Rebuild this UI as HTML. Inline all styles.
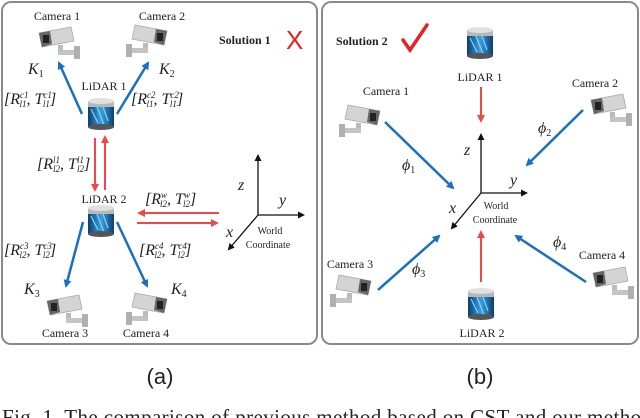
<!DOCTYPE html>
<html><head><meta charset="utf-8"><style>
html,body{margin:0;padding:0;background:#fff}
svg{display:block}
text{font-family:"Liberation Serif",serif;fill:#222}
.m{font-style:italic;font-size:16px}
.lab{font-size:12px}
</style></head><body>
<svg width="640" height="418" viewBox="0 0 640 418" xmlns="http://www.w3.org/2000/svg">
<defs>
<marker id="ab" markerWidth="8" markerHeight="8" refX="6" refY="4" orient="auto" markerUnits="userSpaceOnUse"><path d="M0,0 L8,4 L0,8 Z" fill="#1a6fc0"/></marker>
<marker id="ar" markerWidth="8" markerHeight="8" refX="6" refY="4" orient="auto" markerUnits="userSpaceOnUse"><path d="M0,0 L8,4 L0,8 Z" fill="#f04848"/></marker>
<marker id="ak" markerWidth="7" markerHeight="7" refX="5" refY="3.5" orient="auto" markerUnits="userSpaceOnUse"><path d="M0,0 L7,3.5 L0,7 Z" fill="#111"/></marker>
<g id="cam">
<polygon points="4,6 36,0 39,14 7,20" fill="#d4d4d4" stroke="#aaa" stroke-width="0.8"/>
<polygon points="4,6 15,4 17,17 7,20" fill="#666"/>
<rect x="8" y="8" width="6" height="8" fill="#222"/>
<rect x="23" y="18" width="5" height="9" fill="#bbb"/>
<rect x="23" y="23" width="20" height="5" fill="#c4c4c4"/>
<rect x="39" y="19" width="6" height="13" fill="#b0b0b0"/>
</g>
<linearGradient id="lg" x1="0" x2="1"><stop offset="0" stop-color="#0d3e6e"/><stop offset="0.5" stop-color="#3aa0e0"/><stop offset="1" stop-color="#0d3e6e"/></linearGradient>
<g id="lid">
<rect x="0" y="4" width="26" height="24" fill="url(#lg)"/>
<path d="M3,10 L10,24 M9,8 L16,26 M15,8 L20,22" stroke="#7fd4ff" stroke-width="1.2"/>
<ellipse cx="13" cy="28" rx="13" ry="3" fill="#555"/>
<rect x="0" y="2" width="26" height="6" fill="#b8b8b8"/>
<ellipse cx="13" cy="2" rx="13" ry="3" fill="#e0e0e0"/>
</g>
</defs>

<rect x="2" y="2" width="315" height="342" rx="9" fill="#fff" stroke="#8a8a8a" stroke-width="2"/>
<rect x="322" y="2" width="316" height="342" rx="9" fill="#fff" stroke="#8a8a8a" stroke-width="2"/>

<!-- Left panel -->
<text class="lab" x="57" y="20" text-anchor="middle">Camera 1</text>
<text class="lab" x="162" y="20" text-anchor="middle">Camera 2</text>
<use href="#cam" x="35" y="27"/>
<use href="#cam" transform="translate(171,25) scale(-1,1)"/>
<text x="219" y="44" style="font-weight:bold;font-size:12px">Solution 1</text>
<text x="286" y="49" style="font-size:26px;fill:#e82020;font-family:'Liberation Sans',sans-serif">X</text>
<text class="m" x="28" y="74">K<tspan font-size="10" dy="3" font-style="normal">1</tspan></text>
<text class="m" x="159" y="74">K<tspan font-size="10" dy="3" font-style="normal">2</tspan></text>
<text class="lab" x="104" y="90" text-anchor="middle">LiDAR 1</text>
<use href="#lid" x="88" y="99"/>
<line x1="82" y1="114" x2="59" y2="63" stroke="#1a6fc0" stroke-width="2.5" marker-end="url(#ab)"/>
<line x1="117" y1="114" x2="148" y2="63" stroke="#1a6fc0" stroke-width="2.5" marker-end="url(#ab)"/>
<text class="m" x="4" y="104" font-size="15">[R<tspan font-size="9" dy="-6">c1</tspan><tspan font-size="9" dx="-9" dy="9">l1</tspan><tspan dy="-3">, T</tspan><tspan font-size="9" dy="-6">c1</tspan><tspan font-size="9" dx="-9" dy="9">l1</tspan><tspan dy="-3">]</tspan></text>
<text class="m" x="131" y="104" font-size="15">[R<tspan font-size="9" dy="-6">c2</tspan><tspan font-size="9" dx="-9" dy="9">l1</tspan><tspan dy="-3">, T</tspan><tspan font-size="9" dy="-6">c2</tspan><tspan font-size="9" dx="-9" dy="9">l1</tspan><tspan dy="-3">]</tspan></text>
<line x1="95" y1="138" x2="95" y2="190" stroke="#f04848" stroke-width="2" marker-end="url(#ar)"/>
<line x1="105" y1="190" x2="105" y2="137" stroke="#f04848" stroke-width="2" marker-end="url(#ar)"/>
<text class="m" x="37" y="169" font-size="15">[R<tspan font-size="9" dy="-6">l1</tspan><tspan font-size="9" dx="-7" dy="9">l2</tspan><tspan dy="-3">, T</tspan><tspan font-size="9" dy="-6">l1</tspan><tspan font-size="9" dx="-7" dy="9">l2</tspan><tspan dy="-3">]</tspan></text>
<text class="lab" x="104" y="203" text-anchor="middle">LiDAR 2</text>
<use href="#lid" x="88" y="206"/>
<text class="m" x="145" y="204" font-size="15">[R<tspan font-size="9" dy="-6">w</tspan><tspan font-size="9" dx="-7" dy="9">l2</tspan><tspan dy="-3">, T</tspan><tspan font-size="9" dy="-6">w</tspan><tspan font-size="9" dx="-7" dy="9">l2</tspan><tspan dy="-3">]</tspan></text>
<line x1="219" y1="213" x2="139" y2="213" stroke="#f04848" stroke-width="2" marker-end="url(#ar)"/>
<line x1="137" y1="223" x2="217" y2="223" stroke="#f04848" stroke-width="2" marker-end="url(#ar)"/>
<line x1="258" y1="215" x2="258" y2="156" stroke="#111" stroke-width="1.3" marker-end="url(#ak)"/>
<line x1="258" y1="215" x2="303" y2="215" stroke="#111" stroke-width="1.3" marker-end="url(#ak)"/>
<line x1="258" y1="215" x2="229" y2="249" stroke="#111" stroke-width="1.3" marker-end="url(#ak)"/>
<text class="m" x="238" y="190" font-size="20">z</text>
<text class="m" x="279" y="205" font-size="20">y</text>
<text class="m" x="226" y="237" font-size="20">x</text>
<text x="270" y="234" text-anchor="middle" font-size="10">World</text>
<text x="268" y="248" text-anchor="middle" font-size="10">Coordinate</text>
<line x1="83" y1="222" x2="66" y2="286" stroke="#1a6fc0" stroke-width="2.5" marker-end="url(#ab)"/>
<line x1="117" y1="222" x2="147" y2="286" stroke="#1a6fc0" stroke-width="2.5" marker-end="url(#ab)"/>
<text class="m" x="4" y="255" font-size="15">[R<tspan font-size="9" dy="-6">c3</tspan><tspan font-size="9" dx="-9" dy="9">l2</tspan><tspan dy="-3">, T</tspan><tspan font-size="9" dy="-6">c3</tspan><tspan font-size="9" dx="-9" dy="9">l2</tspan><tspan dy="-3">]</tspan></text>
<text class="m" x="139" y="255" font-size="15">[R<tspan font-size="9" dy="-6">c4</tspan><tspan font-size="9" dx="-9" dy="9">l2</tspan><tspan dy="-3">, T</tspan><tspan font-size="9" dy="-6">c4</tspan><tspan font-size="9" dx="-9" dy="9">l2</tspan><tspan dy="-3">]</tspan></text>
<text class="m" x="24" y="294">K<tspan font-size="10" dy="3" font-style="normal">3</tspan></text>
<text class="m" x="171" y="294">K<tspan font-size="10" dy="3" font-style="normal">4</tspan></text>
<use href="#cam" x="43" y="295"/>
<use href="#cam" transform="translate(171,293) scale(-1,1)"/>
<text class="lab" x="65" y="337" text-anchor="middle">Camera 3</text>
<text class="lab" x="146" y="337" text-anchor="middle">Camera 4</text>

<!-- Right panel -->
<text x="336" y="45" style="font-weight:bold;font-size:12px">Solution 2</text>
<path d="M403,40 L410,50 L427,25" fill="none" stroke="#e82020" stroke-width="3.5" stroke-linecap="round"/>
<use href="#lid" x="467" y="28"/>
<text class="lab" x="480" y="81" text-anchor="middle">LiDAR 1</text>
<line x1="481" y1="87" x2="481" y2="121" stroke="#f04848" stroke-width="2" marker-end="url(#ar)"/>
<text class="lab" x="386" y="95" text-anchor="middle">Camera 1</text>
<use href="#cam" transform="translate(384,105) scale(-1,1)"/>
<text class="lab" x="595" y="87" text-anchor="middle">Camera 2</text>
<use href="#cam" x="587" y="94"/>
<line x1="385" y1="122" x2="453" y2="188" stroke="#1a6fc0" stroke-width="2.5" marker-end="url(#ab)"/>
<text class="m" x="402" y="170">ϕ<tspan font-size="10" dy="3" font-style="normal">1</tspan></text>
<line x1="583" y1="110" x2="527" y2="165" stroke="#1a6fc0" stroke-width="2.5" marker-end="url(#ab)"/>
<text class="m" x="538" y="133">ϕ<tspan font-size="10" dy="3" font-style="normal">2</tspan></text>
<line x1="481" y1="193" x2="481" y2="135" stroke="#111" stroke-width="1.3" marker-end="url(#ak)"/>
<line x1="481" y1="193" x2="526" y2="193" stroke="#111" stroke-width="1.3" marker-end="url(#ak)"/>
<line x1="481" y1="193" x2="452" y2="228" stroke="#111" stroke-width="1.3" marker-end="url(#ak)"/>
<text class="m" x="464" y="155" font-size="20">z</text>
<text class="m" x="510" y="185" font-size="20">y</text>
<text class="m" x="449" y="213" font-size="20">x</text>
<text x="496" y="209" text-anchor="middle" font-size="10">World</text>
<text x="495" y="223" text-anchor="middle" font-size="10">Coordinate</text>
<line x1="481" y1="282" x2="481" y2="232" stroke="#f04848" stroke-width="2" marker-end="url(#ar)"/>
<text class="lab" x="350" y="268" text-anchor="middle">Camera 3</text>
<use href="#cam" transform="translate(375,275) scale(-1,1)"/>
<line x1="378" y1="290" x2="439" y2="236" stroke="#1a6fc0" stroke-width="2.5" marker-end="url(#ab)"/>
<text class="m" x="412" y="274">ϕ<tspan font-size="10" dy="3" font-style="normal">3</tspan></text>
<text class="lab" x="602" y="259" text-anchor="middle">Camera 4</text>
<use href="#cam" x="589" y="267"/>
<line x1="586" y1="282" x2="516" y2="236" stroke="#1a6fc0" stroke-width="2.5" marker-end="url(#ab)"/>
<text class="m" x="553" y="247">ϕ<tspan font-size="10" dy="3" font-style="normal">4</tspan></text>
<use href="#lid" x="468" y="289"/>
<text class="lab" x="482" y="337" text-anchor="middle">LiDAR 2</text>

<text x="160" y="384" text-anchor="middle" style="font-family:'Liberation Sans',sans-serif;font-size:22px">(a)</text>
<text x="480" y="384" text-anchor="middle" style="font-family:'Liberation Sans',sans-serif;font-size:22px">(b)</text>
<text x="2" y="424" style="font-size:21px" textLength="650" lengthAdjust="spacing">Fig. 1.  The comparison of previous method based on CST and our method</text>
</svg>
</body></html>
